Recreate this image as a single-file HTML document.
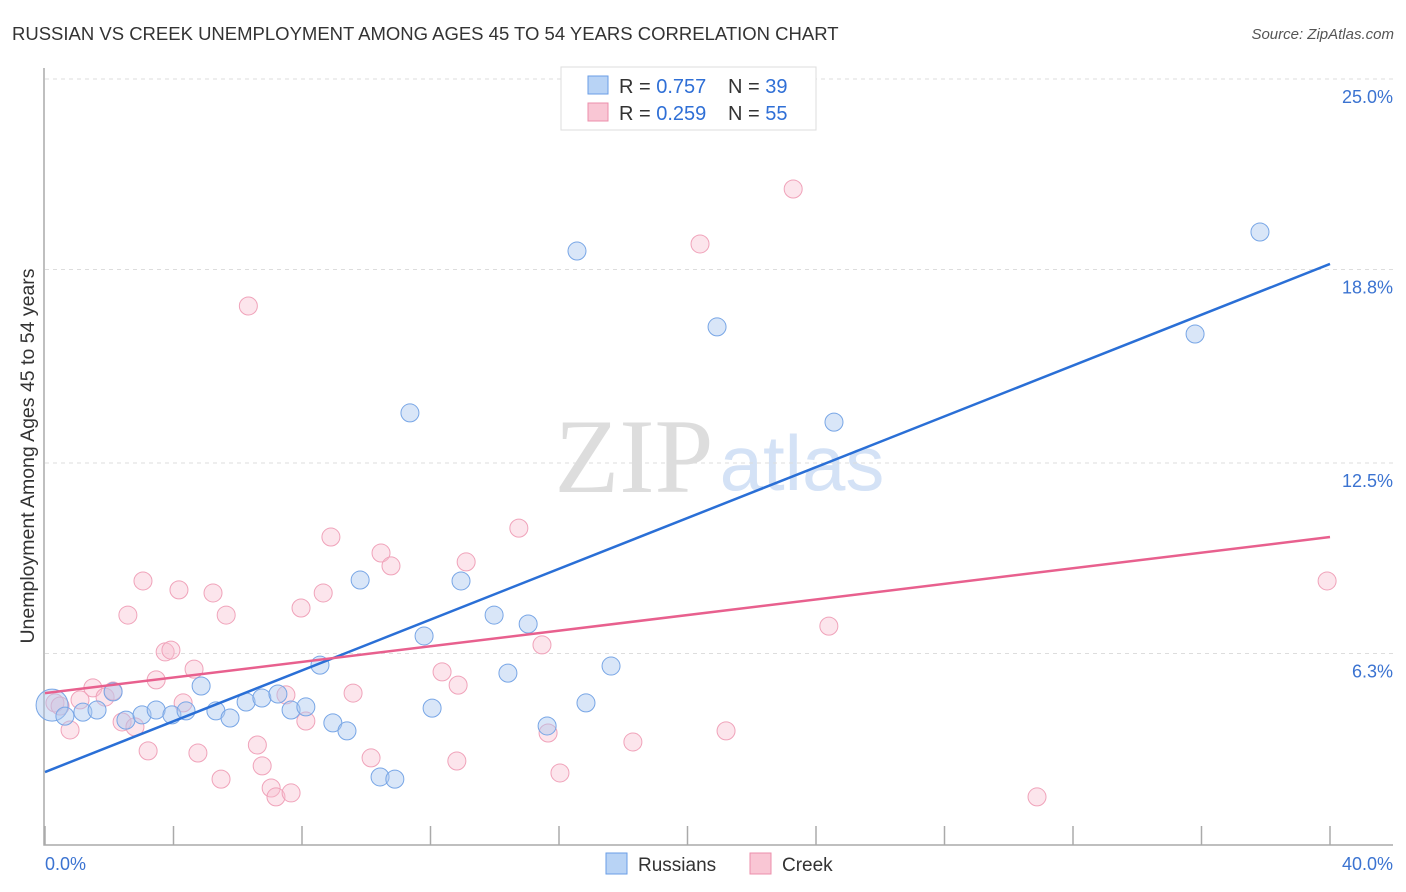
<!DOCTYPE html>
<html><head><meta charset="utf-8"><style>
body{margin:0;background:#fff;font-family:"Liberation Sans",sans-serif}
svg{display:block}
</style></head><body>
<svg width="1406" height="892" id="c">
<text x="12" y="40" font-size="18.5" fill="#333">RUSSIAN VS CREEK UNEMPLOYMENT AMONG AGES 45 TO 54 YEARS CORRELATION CHART</text>
<text x="1394" y="39" font-size="15" fill="#555" text-anchor="end" font-style="italic">Source: ZipAtlas.com</text>
<text x="634" y="492" font-size="106" fill="#ddd" font-family="Liberation Serif" text-anchor="middle">ZIP</text>
<text x="802" y="490" font-size="78" fill="#d4e2f6" text-anchor="middle">atlas</text>
<text transform="translate(34,456) rotate(-90)" font-size="19.5" fill="#333" text-anchor="middle">Unemployment Among Ages 45 to 54 years</text>
<g id="grid"></g><g id="pts"></g><g id="lines"></g>
<g>
<rect x="561" y="67" width="255" height="63" fill="#fff" stroke="#ddd"/>
<rect x="588" y="76" width="20" height="18" fill="#b8d3f5" stroke="#6a9ee6"/>
<rect x="588" y="103" width="20" height="18" fill="#f9c6d4" stroke="#ec8fab"/>
<text x="619" y="93" font-size="20" fill="#333">R = <tspan fill="#2f6fd6">0.757</tspan></text>
<text x="728" y="93" font-size="20" fill="#333">N = <tspan fill="#2f6fd6">39</tspan></text>
<text x="619" y="120" font-size="20" fill="#333">R = <tspan fill="#2f6fd6">0.259</tspan></text>
<text x="728" y="120" font-size="20" fill="#333">N = <tspan fill="#2f6fd6">55</tspan></text>
</g>
<g>
<rect x="606" y="853" width="21" height="21" fill="#b8d3f5" stroke="#6a9ee6"/>
<text x="638" y="871" font-size="19" fill="#333">Russians</text>
<rect x="750" y="853" width="21" height="21" fill="#f9c6d4" stroke="#ec8fab"/>
<text x="782" y="871" font-size="19" fill="#333">Creek</text>
</g>
</svg>
<script>
const yTicks=[6.3,12.5,18.8,25.0];
const yTickLabels=["6.3%","12.5%","18.8%","25.0%"];
const xTickLabels=["0.0%","40.0%"];
const ruX=[0.22,0.62,1.18,1.62,2.12,2.52,3.02,3.46,3.95,4.39,4.86,5.32,5.76,6.26,6.75,7.25,7.66,8.12,8.56,8.96,9.40,9.81,10.43,10.89,11.36,11.80,12.05,12.95,13.98,14.41,15.04,15.63,16.56,16.84,17.62,20.92,24.56,35.80,37.82];
const ruY=[4.62,4.26,4.39,4.46,5.05,4.13,4.30,4.46,4.30,4.43,5.24,4.43,4.20,4.72,4.85,4.98,4.46,4.56,5.92,4.04,3.78,8.69,2.28,2.21,14.13,6.87,4.52,8.66,7.55,5.66,7.26,3.94,19.40,4.69,5.89,16.93,13.83,16.70,20.02];
const crX=[0.31,0.47,0.78,1.09,1.49,1.87,2.12,2.40,2.58,2.80,3.05,3.21,3.46,3.74,3.92,4.17,4.30,4.64,4.76,5.23,5.48,5.64,6.33,6.61,6.76,7.04,7.19,7.50,7.66,7.97,8.12,8.66,8.90,9.59,10.15,10.46,10.77,12.36,12.82,12.86,13.11,14.75,15.47,15.66,16.03,18.30,20.39,21.20,23.29,24.40,30.88,39.91];
const crY=[4.69,4.59,3.81,4.79,5.18,4.88,5.08,4.07,7.55,3.91,8.66,3.13,5.44,6.35,6.41,8.37,4.69,5.79,3.06,8.27,2.21,7.55,17.61,3.32,2.64,1.92,1.63,4.95,1.76,7.78,4.10,8.27,10.09,5.01,2.90,9.57,9.15,5.70,2.80,5.27,9.28,10.38,6.58,3.71,2.41,3.42,19.63,3.78,21.42,7.19,1.63,8.66];
const ruTrend=[2.44,18.98];
const crTrend=[5.01,10.09];
const xs=v=>45+v/40*1285, ys=v=>847-v/25*768;
const NS="http://www.w3.org/2000/svg";
function mk(t,a,p){const e=document.createElementNS(NS,t);for(const k in a)e.setAttribute(k,a[k]);p.appendChild(e);return e;}
const g=document.getElementById('grid');
yTicks.forEach((t,i)=>{
 const l=mk('line',{x1:45,x2:1393,y1:ys(t),y2:ys(t),stroke:'#ddd','stroke-dasharray':'4,4'},g);
 
 
 const tx=mk('text',{x:1393,y:ys(t)+24,'font-size':18,fill:'#3b73d1','text-anchor':'end'},g);
 tx.textContent=yTickLabels[i];
 
 
});
const ax=mk('path',{d:'M44 68V845H1393',fill:'none',stroke:'#aaa','stroke-width':1.5},g);


for(let i=0;i<=10;i++){const v=i*4;const t=mk('line',{x1:xs(v),x2:xs(v),y1:826,y2:845,stroke:'#aaa','stroke-width':1.5},g);
 
 }
[[0,45,'start'],[40,1393,'end']].forEach((d,i)=>{const t=mk('text',{x:d[1],y:870,'font-size':18,fill:'#3b73d1','text-anchor':d[2]},g);t.textContent=xTickLabels[i];
 
 });
const p=document.getElementById('pts');
crX.forEach((x,i)=>{const c=mk('circle',{cx:xs(x),cy:ys(crY[i]),r:9,fill:'rgba(248,190,207,0.4)',stroke:'#f0a3ba','stroke-width':1},p);
 
 });
ruX.forEach((x,i)=>{const c=mk('circle',{cx:xs(x),cy:ys(ruY[i]),r:i==0?16:9,fill:'rgba(170,200,240,0.45)',stroke:'#78a6e6','stroke-width':1},p);
 
 });
const L=document.getElementById('lines');
const l1=mk('line',{x1:xs(0),x2:xs(40),y1:ys(ruTrend[0]),y2:ys(ruTrend[1]),stroke:'#2a6fd6','stroke-width':2.5},L);


const l2=mk('line',{x1:xs(0),x2:xs(40),y1:ys(crTrend[0]),y2:ys(crTrend[1]),stroke:'#e8608e','stroke-width':2.5},L);


</script>
</body></html>
